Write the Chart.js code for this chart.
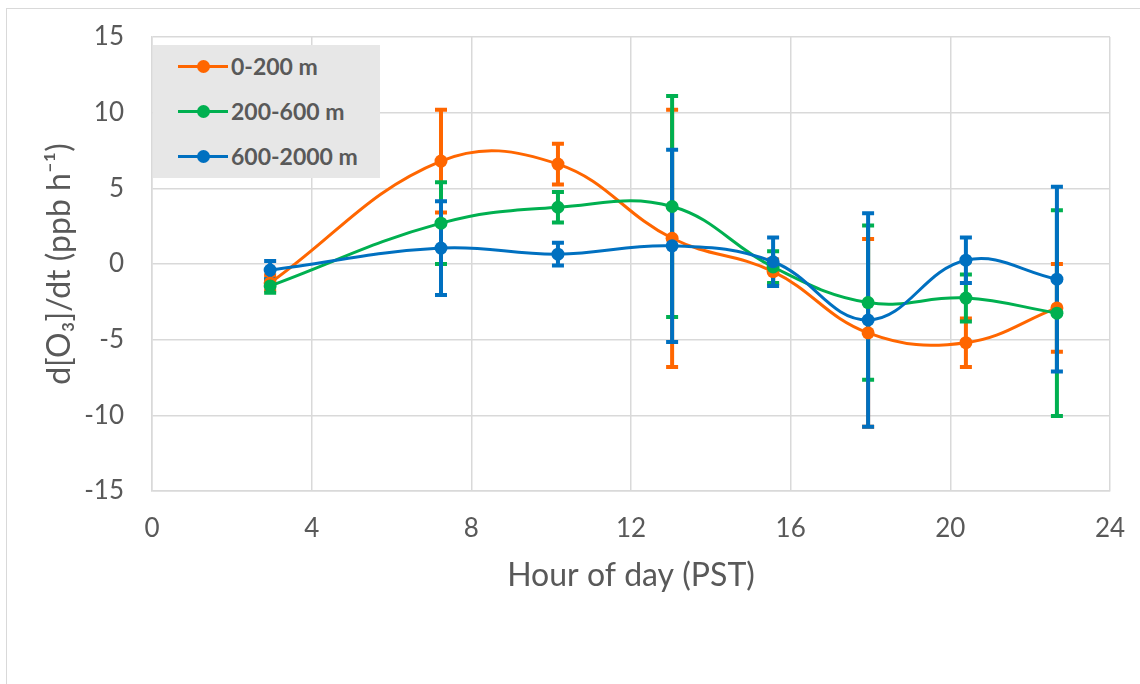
<!DOCTYPE html>
<html>
<head>
<meta charset="utf-8">
<script src="https://cdn.jsdelivr.net/npm/chart.js@4.4.1/dist/chart.umd.min.js"></script>
<style>
    body { margin:0; background:#fff; }
    #wrap { position:relative; width:1140px; height:684px; overflow:hidden; }
    #frame { position:absolute; left:6px; top:8px; width:1200px; height:700px; border-left:1.5px solid #d9d9d9; border-top:1.5px solid #d9d9d9; }
    #legend { position:absolute; left:153px; top:45px; width:227px; height:133px; background:#e7e7e7;
              font-family:Lato, 'Noto Sans', sans-serif; font-weight:bold; font-size:23px; color:#595959; }
    .ln { position:absolute; left:25px; width:50px; height:3px; }
    .pt { position:absolute; left:43.5px; width:13px; height:13px; border-radius:50%; }
    .tx { position:absolute; left:78px; line-height:24px; white-space:nowrap; }
</style>
</head>
<body>
<div id="wrap">
    <div id="frame"></div>
    <canvas id="myChart" width="1140" height="684"></canvas>
    <div id="legend"></div>
</div>
<script>
const seriesNames = ['0-200 m', '200-600 m', '600-2000 m'];
const seriesColors = ['#ff6600', '#00b050', '#0070c0'];
const hours = [2.96, 7.24, 10.17, 13.03, 15.56, 17.94, 20.39, 22.67];

const o3Low = [-1.25, 6.8, 6.6, 1.7, -0.5, -4.55, -5.2, -2.9];
const o3Mid = [-1.45, 2.7, 3.75, 3.8, -0.2, -2.55, -2.25, -3.25];
const o3High = [-0.4, 1.05, 0.65, 1.2, 0.15, -3.7, 0.25, -1.0];

const errLow = [0.5, 3.4, 1.35, 8.5, 0.8, 6.2, 1.6, 2.9];
const errMid = [0.45, 2.7, 1.0, 7.3, 1.05, 5.1, 1.55, 6.8];
const errHigh = [0.6, 3.1, 0.75, 6.35, 1.6, 7.05, 1.5, 6.1];

const xTicks = [0, 4, 8, 12, 16, 20, 24];
const yTicks = [-15, -10, -5, 0, 5, 10, 15];

const allValues = [o3Low, o3Mid, o3High];
const allErrors = [errLow, errMid, errHigh];

const fontFam = "Lato, 'Noto Sans', sans-serif";

// error bars go under every line, blue on top
const errorBars = {
    id: 'errorBars',
    beforeDatasetsDraw(chart)
    {
        const ctx = chart.ctx;
        const xs = chart.scales.x;
        const ys = chart.scales.y;
        ctx.save();
        for(let s = 0; s < allValues.length; s++)
        {
            ctx.strokeStyle = seriesColors[s];
            ctx.lineWidth = 4;
            ctx.lineCap = 'butt';
            for(let i = 0; i < hours.length; i++)
            {
                const px = xs.getPixelForValue(hours[i]);
                const top = ys.getPixelForValue(allValues[s][i] + allErrors[s][i]);
                const bot = ys.getPixelForValue(allValues[s][i] - allErrors[s][i]);
                ctx.beginPath();
                ctx.moveTo(px, top);
                ctx.lineTo(px, bot);
                ctx.moveTo(px - 6, top);
                ctx.lineTo(px + 6, top);
                ctx.moveTo(px - 6, bot);
                ctx.lineTo(px + 6, bot);
                ctx.stroke();
            }
        }
        ctx.restore();
    }
};

const datasets = allValues.map((vals, s) =>
{
    return {
        label: seriesNames[s],
        data: hours.map((h, i) => ({ x: h, y: vals[i] })),
        borderColor: seriesColors[s],
        backgroundColor: seriesColors[s],
        borderWidth: 3,
        pointRadius: 6.5,
        pointHoverRadius: 6.5,
        pointBorderWidth: 0,
        tension: 0.4,
        showLine: true,
        order: allValues.length - s
    };
});

const ctx = document.getElementById('myChart').getContext('2d');
const myChart = new Chart(ctx, {
    type: 'scatter',
    data: { datasets: datasets },
    plugins: [errorBars],
    options: {
        responsive: false,
        animation: false,
        layout: { padding: { left: 0, top: 37, right: 30, bottom: 0 } },
        plugins: {
            legend: { display: false },
            tooltip: { enabled: false }
        },
        scales: {
            x: {
                type: 'linear',
                min: 0,
                max: 24,
                afterBuildTicks: (scale) => { scale.ticks = xTicks.map(v => ({ value: v })); },
                afterFit: (scale) =>
                {
                    scale.height = 193;
                    scale.paddingLeft = 0;
                    scale.paddingRight = 0;
                },
                grid: { color: '#d9d9d9', lineWidth: 1.5, drawTicks: false },
                border: { color: '#d9d9d9', width: 1.5 },
                ticks: { padding: 22, color: '#595959', font: { family: fontFam, size: 26 } },
                title: {
                    display: true,
                    text: 'Hour of day (PST)',
                    color: '#595959',
                    font: { family: fontFam, size: 32 },
                    padding: { top: 0, bottom: 89 }
                }
            },
            y: {
                min: -15,
                max: 15,
                afterBuildTicks: (scale) => { scale.ticks = yTicks.map(v => ({ value: v })); },
                afterFit: (scale) =>
                {
                    scale.width = 152;
                    scale.paddingTop = 0;
                    scale.paddingBottom = 0;
                },
                grid: { color: '#d9d9d9', lineWidth: 1.5, drawTicks: false },
                border: { color: '#d9d9d9', width: 1.5 },
                ticks: { padding: 28, color: '#595959', font: { family: fontFam, size: 26 } },
                title: {
                    display: true,
                    text: 'd[O₃]/dt (ppb h⁻¹)',
                    color: '#595959',
                    font: { family: fontFam, size: 32 },
                    padding: { top: 40, bottom: 0 }
                }
            }
        }
    }
});

// html legend built from the datasets
const legendEl = document.getElementById('legend');
myChart.data.datasets.forEach((ds, i) =>
{
    const cy = 21 + i * 45;
    legendEl.insertAdjacentHTML('beforeend',
        '<div class="ln" style="top:' + (cy - 1.5) + 'px;background:' + ds.borderColor + '"></div>' +
        '<div class="pt" style="top:' + (cy - 6.5) + 'px;background:' + ds.borderColor + '"></div>' +
        '<div class="tx" style="top:' + (cy - 12) + 'px">' + ds.label + '</div>');
});
</script>
</body>
</html>
